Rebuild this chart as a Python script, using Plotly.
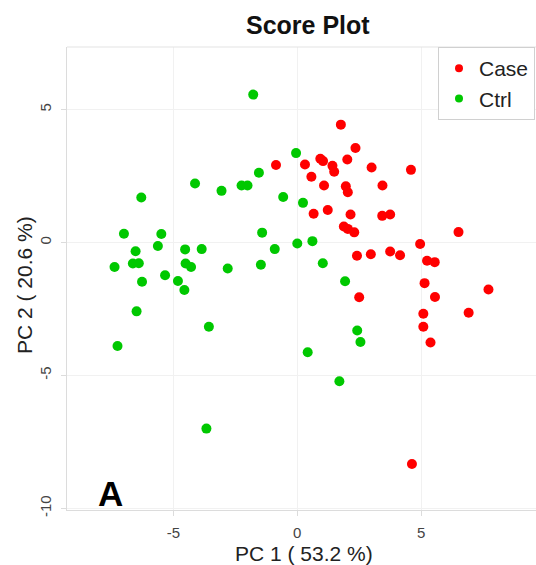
import plotly.graph_objects as go

# Case group scores (PC1, PC2)
case_pc1 = [1.76, 2.35, -0.86, 0.31, 0.93, 1.04, 2.02, 1.42, 1.49, 0.57,
            3.00, 4.59, 1.08, 1.96, 2.04, 3.44, 0.66, 1.23, 2.15, 3.43,
            3.75, 1.88, 2.04, 2.30, 6.51, 4.96, 2.41, 2.97, 3.75, 4.15,
            5.24, 5.55, 5.14, 7.72, 2.50, 5.56, 5.09, 6.92, 5.09, 5.38, 4.63]
case_pc2 = [4.43, 3.55, 2.91, 2.93, 3.15, 3.06, 3.12, 2.88, 2.66, 2.47,
            2.82, 2.73, 2.14, 2.11, 1.89, 2.14, 1.08, 1.22, 1.05, 1.00,
            1.05, 0.60, 0.51, 0.38, 0.39, -0.06, -0.50, -0.44, -0.34, -0.48,
            -0.69, -0.74, -1.53, -1.77, -2.06, -2.05, -2.68, -2.64, -3.17, -3.76, -8.33]

# Ctrl group scores (PC1, PC2)
ctrl_pc1 = [-1.78, -0.05, -1.55, -4.13, -3.06, -2.25, -2.01, -6.30, -0.57, 0.23,
            -1.42, -7.00, -5.49, -5.63, -6.53, -4.53, -3.86, -0.91, 0.00, 0.61,
            -7.38, -6.64, -6.40, -4.51, -4.29, -2.81, -1.47, 1.03, 1.93, -6.27,
            -5.34, -4.82, -4.56, -6.49, -3.57, -7.26, -3.67, 0.42, 2.42, 2.55, 1.70]
ctrl_pc2 = [5.56, 3.36, 2.62, 2.22, 1.94, 2.14, 2.14, 1.69, 1.71, 1.49,
            0.37, 0.33, 0.32, -0.13, -0.33, -0.26, -0.25, -0.25, -0.04, 0.05,
            -0.92, -0.79, -0.78, -0.79, -0.92, -0.98, -0.84, -0.78, -1.46, -1.48,
            -1.23, -1.45, -1.79, -2.59, -3.17, -3.89, -7.00, -4.13, -3.31, -3.74, -5.22]

x_ticks = [-5, 0, 5]
y_ticks = [5, 0, -5, -10]

RED = "#FF0000"
GREEN = "#00C800"
FONT = "Liberation Sans, Arial, sans-serif"

fig = go.Figure()
fig.add_trace(go.Scatter(x=case_pc1, y=case_pc2, mode="markers", name="Case",
                         marker=dict(color=RED, size=10), showlegend=False))
fig.add_trace(go.Scatter(x=ctrl_pc1, y=ctrl_pc2, mode="markers", name="Ctrl",
                         marker=dict(color=GREEN, size=10), showlegend=False))
# legend entries
fig.add_trace(go.Scatter(x=[None], y=[None], mode="markers", name="Case",
                         marker=dict(color=RED, size=8)))
fig.add_trace(go.Scatter(x=[None], y=[None], mode="markers", name="Ctrl",
                         marker=dict(color=GREEN, size=8)))

W, H = 536, 565
L, R, T, B = 67, 0, 47, 55

fig.update_layout(
    width=W, height=H,
    margin=dict(l=L, r=R, t=T, b=B, pad=0),
    paper_bgcolor="white", plot_bgcolor="white",
    font=dict(family=FONT, color="#222"),
    showlegend=True,
    legend=dict(x=(438 - L) / (W - L - R), xanchor="left", y=1, yanchor="top",
                bgcolor="white", bordercolor="#d0d0d0", borderwidth=1,
                font=dict(size=21, family=FONT, color="#222"),
                itemwidth=30, entrywidth=115, entrywidthmode="pixels"),
    xaxis=dict(range=[-9.30, 9.64], tickvals=x_ticks, ticktext=[str(v) for v in x_ticks],
               showgrid=True, gridcolor="#f1f1f1", gridwidth=1,
               zeroline=False, showline=True, linecolor="#dcdcdc", linewidth=1,
               ticks="outside", ticklen=5, tickcolor="#dcdcdc",
               tickfont=dict(size=15, color="#444"), ticklabelstandoff=4),
    yaxis=dict(range=[-10.06, 7.35], tickvals=y_ticks, ticktext=[str(v) for v in y_ticks],
               showgrid=True, gridcolor="#f1f1f1", gridwidth=1,
               zeroline=False, showline=True, linecolor="#dcdcdc", linewidth=1,
               ticks="outside", ticklen=5, tickcolor="#dcdcdc", tickangle=-90,
               tickfont=dict(size=15, color="#444"), ticklabelstandoff=4),
    shapes=[dict(type="line", xref="paper", yref="paper", x0=0, x1=1.05, y0=1, y1=1,
                 line=dict(color="#e3e3e3", width=1))],
    annotations=[
        dict(text="<b>Score Plot</b>", xref="paper", yref="paper",
             x=(308 - L) / (W - L), y=1 + (T - 25) / (H - T - B),
             xanchor="center", yanchor="middle", showarrow=False,
             font=dict(size=25, family=FONT, color="#111")),
        dict(text="PC 1 ( 53.2 %)", xref="paper", yref="paper",
             x=(304 - L) / (W - L), y=-(553 - (H - B)) / (H - T - B),
             xanchor="center", yanchor="middle", showarrow=False,
             font=dict(size=21, family=FONT, color="#222")),
        dict(text="PC 2 ( 20.6 %)", xref="paper", yref="paper", textangle=-90,
             x=-(L - 24) / (W - L), y=1 - (285 - T) / (H - T - B),
             xanchor="center", yanchor="middle", showarrow=False,
             font=dict(size=21, family=FONT, color="#222")),
        dict(text="<b>A</b>", xref="paper", yref="paper",
             x=(110.5 - L) / (W - L), y=1 - (493 - T) / (H - T - B),
             xanchor="center", yanchor="middle", showarrow=False,
             font=dict(size=35, family=FONT, color="#000")),
    ],
)

fig.write_html("out.html", config={"displayModeBar": False},
               post_script="document.body.style.margin='0';document.body.style.overflow='hidden';")
